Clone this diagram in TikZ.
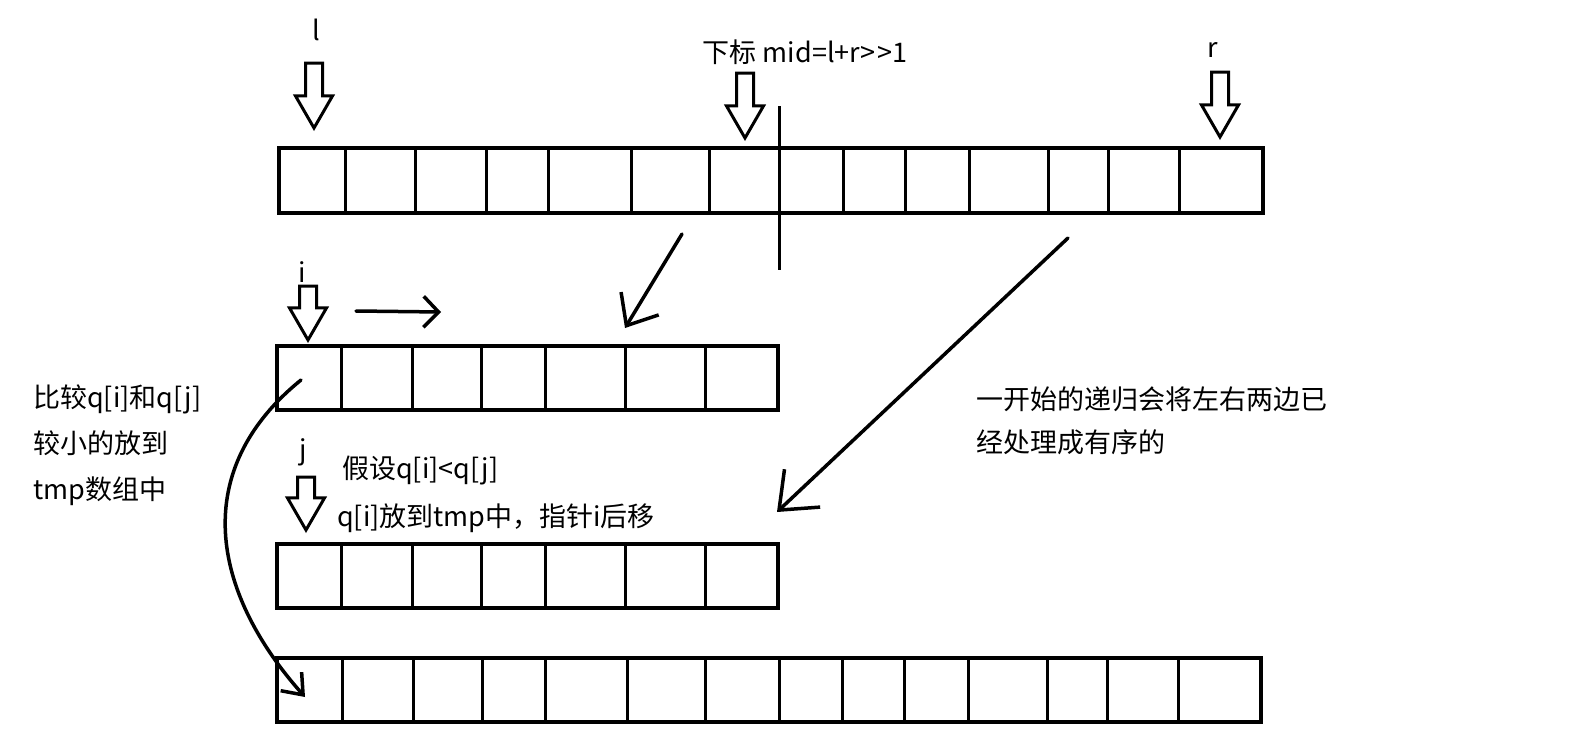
\documentclass[tikz,border=0pt]{standalone}
\usepackage{fontspec}
\setmainfont{Noto Sans CJK SC}
\usetikzlibrary{arrows.meta,shapes.arrows}

\begin{document}
\begin{tikzpicture}[x=1pt, y=-1pt,
    arr/.style={draw, line width=4pt, inner sep=0pt, minimum height=65pt},
    sep/.style={line width=3pt},
    ptr/.style={single arrow, draw, line width=3pt, shape border rotate=270, inner sep=7pt,
        minimum width=35pt, minimum height=65pt, single arrow head extend=10pt,
        single arrow tip angle=60, anchor=tip},
    hand/.style={line width=3.5pt, line cap=round},
    lbl/.style={font=\fontsize{27}{46}\selectfont, inner sep=0pt, align=left}
]
\useasboundingbox (0,0) rectangle (1577,747);

% original array, split at mid
\node[arr, minimum width=984pt] (orig) at (771,180.5) {};
\foreach \x in {345,415,486,548,631,709,843,905,969,1048,1108,1179}
    \draw[sep] (\x,148) -- (\x,213);
\draw[sep] (779,106) -- (779,270);

% left half and right half
\node[arr, minimum width=501pt, minimum height=64pt] (lhalf) at (527.5,378) {};
\node[arr, minimum width=501pt, minimum height=64pt] (rhalf) at (527.5,576) {};
\foreach \x in {341,412,481,545,625,705} {
    \draw[sep] (\x,346) -- (\x,410);
    \draw[sep] (\x,544) -- (\x,608);
}

% tmp array
\node[arr, minimum width=984pt, minimum height=64pt] (tmp) at (769,690) {};
\foreach \x in {342,413,482,545,627,705,779,842,904,968,1047,1107,1178}
    \draw[sep] (\x,658) -- (\x,722);

% pointers
\node[ptr] (pl) at (314,131) {};
\node[ptr] (pmid) at (745,141) {};
\node[ptr] (pr) at (1220,140) {};
\node[ptr, minimum height=54pt] (pi) at (308,343) {};
\node[ptr, minimum height=53pt] (pj) at (306,533) {};

\node[lbl] (ll) at (316,30) {l};
\node[lbl] (lmid) at (805,52) {下标 mid=l+r>\kern2pt>1};
\node[lbl] (lr) at (1213,50) {r};
\node[lbl] (li) at (302,272) {i};
\node[lbl] (lj) at (303,452) {j};

% notes
\node[lbl, anchor=west] (cmp) at (33,445) {比较q[i]和q[j]\\较小的放到\\tmp数组中};
\node[lbl, anchor=west] (assume) at (342,470) {假设q[i]<q[j]};
\node[lbl, anchor=west] (move) at (337,518) {q[i]放到tmp中，指针i后移};
\node[lbl, anchor=west, font=\fontsize{27}{43}\selectfont] (rec) at (976,421)
    {一开始的递归会将左右两边已\\经处理成有序的};

% connectors
\coordinate (s1) at (682,234);
\coordinate (e1) at (625,328);
\coordinate (s2) at (1068,238);
\coordinate (e2) at (777,512);
\coordinate (s3) at (356,311);
\coordinate (e3) at (441,312);
\coordinate (s4) at (301,380);
\coordinate (e4) at (305,697);

\draw[hand, -{Straight Barb[length=26pt,width=44pt]}] (s1) -- (e1);
\draw[hand, -{Straight Barb[length=32pt,width=52pt]}] (s2) -- (e2);
\draw[hand, -{Straight Barb[length=15pt,width=31pt]}] (s3) -- (e3);
\draw[hand, -{Straight Barb[length=18pt,width=28pt]}] (s4) .. controls (190,470) and (210,590) .. (e4);
\end{tikzpicture}
\end{document}
